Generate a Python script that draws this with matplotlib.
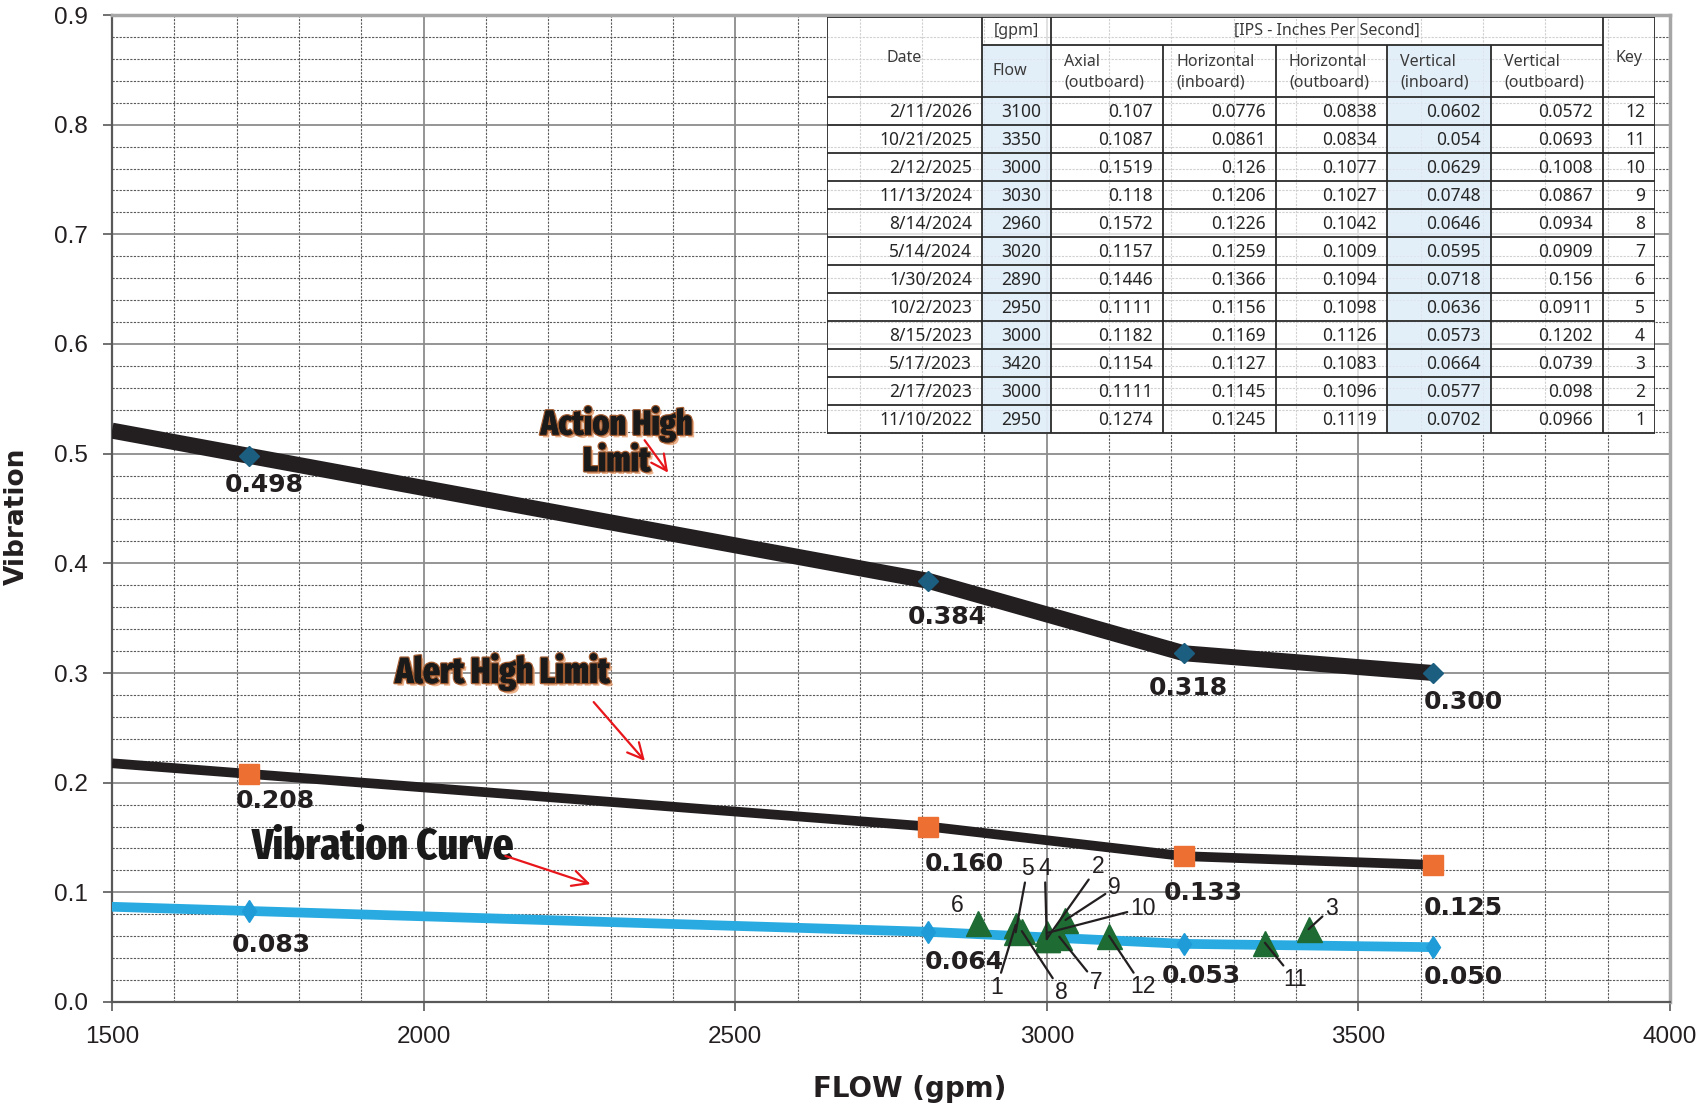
import numpy as np
import matplotlib
matplotlib.use('Agg')
import matplotlib.pyplot as plt
import matplotlib.patheffects as pe
from matplotlib import font_manager as fm
from matplotlib.patches import Rectangle
from matplotlib.ticker import MultipleLocator, FormatStrFormatter

plt.rcParams['font.family'] = ['Liberation Sans', 'DejaVu Sans']

# limit curves
curve_flow = [1720, 2810, 3220, 3620]
action_limit = [0.498, 0.384, 0.318, 0.300]
alert_limit = [0.208, 0.160, 0.133, 0.125]
vib_curve = [0.083, 0.064, 0.053, 0.050]

# measurement history (table)
dates = ['2/11/2026', '10/21/2025', '2/12/2025', '11/13/2024', '8/14/2024', '5/14/2024',
         '1/30/2024', '10/2/2023', '8/15/2023', '5/17/2023', '2/17/2023', '11/10/2022']
flow = [3100, 3350, 3000, 3030, 2960, 3020, 2890, 2950, 3000, 3420, 3000, 2950]
axial_out = [0.107, 0.1087, 0.1519, 0.118, 0.1572, 0.1157, 0.1446, 0.1111, 0.1182, 0.1154, 0.1111, 0.1274]
horiz_in = [0.0776, 0.0861, 0.126, 0.1206, 0.1226, 0.1259, 0.1366, 0.1156, 0.1169, 0.1127, 0.1145, 0.1245]
horiz_out = [0.0838, 0.0834, 0.1077, 0.1027, 0.1042, 0.1009, 0.1094, 0.1098, 0.1126, 0.1083, 0.1096, 0.1119]
vert_in = [0.0602, 0.054, 0.0629, 0.0748, 0.0646, 0.0595, 0.0718, 0.0636, 0.0573, 0.0664, 0.0577, 0.0702]
vert_out = [0.0572, 0.0693, 0.1008, 0.0867, 0.0934, 0.0909, 0.156, 0.0911, 0.1202, 0.0739, 0.098, 0.0966]
keys = [12, 11, 10, 9, 8, 7, 6, 5, 4, 3, 2, 1]

x_min, x_max = 1500, 4000


def condensed_bold():
    # narrowest, heaviest upright face available (stand-in for Impact)
    best = None
    for f in fm.fontManager.ttflist:
        fn = f.fname
        narrow = ('Condensed' in f.name or 'Narrow' in f.name or 'ondensed' in fn
                  or 'Narrow' in fn or str(f.stretch) != 'normal')
        if not narrow or 'xpanded' in fn or 'Italic' in fn or 'Oblique' in fn or f.style != 'normal':
            continue
        if 'ExtraCondensed' in fn or 'UltraCondensed' in fn:
            rank = 0
        elif 'SemiCondensed' in fn:
            rank = 2
        else:
            rank = 1
        w = f.weight if isinstance(f.weight, int) else (700 if 'bold' in str(f.weight) else 400)
        score = (rank, abs(w - 800))
        if best is None or score < best[0]:
            best = (score, fn)
    if best:
        return fm.FontProperties(fname=best[1])
    return fm.FontProperties(family='Liberation Sans', weight='bold')


W, H = 1704, 1104
fig = plt.figure(figsize=(W / 100, H / 100), dpi=100)
ax = fig.add_axes([112 / W, 1 - 1002 / H, 1558 / W, 987 / H])


def extend_left(xs, ys):
    # lines in the original run back to the left edge along the first segment
    slope = (ys[1] - ys[0]) / (xs[1] - xs[0])
    return [x_min] + list(xs), [ys[0] + slope * (x_min - xs[0])] + list(ys)


lx, ly = extend_left(curve_flow, action_limit)
ax.plot(lx, ly, color='#231f20', lw=11.5, solid_capstyle='butt', zorder=3)
ax.plot(curve_flow, action_limit, 'D', color='#1b5e80', ms=10.5, zorder=4)

lx, ly = extend_left(curve_flow, alert_limit)
ax.plot(lx, ly, color='#231f20', lw=7, solid_capstyle='butt', zorder=3)
ax.plot(curve_flow, alert_limit, 's', color='#ed7032', ms=15, zorder=4)

lx, ly = extend_left(curve_flow, vib_curve)
ax.plot(lx, ly, color='#29abe2', lw=7, solid_capstyle='butt', zorder=3)
ax.plot(curve_flow, vib_curve, 'd', color='#1f9bd7', ms=11.5, zorder=4)

ax.plot(flow, vert_in, '^', color='#1e6b34', ms=18, ls='none', zorder=5)

# value labels under the curve points
action_off = [(15, -29), (19, -36), (4, -35), (30, -29)]
alert_off = [(26, -27), (36, -37), (19, -37), (30, -43)]
vib_off = [(22, -34), (36, -30), (17, -32), (30, -30)]
for ys, offs in [(action_limit, action_off), (alert_limit, alert_off), (vib_curve, vib_off)]:
    for x, y, off in zip(curve_flow, ys, offs):
        ax.annotate(f'{y:.3f}', (x, y), xytext=off, textcoords='offset pixels',
                    ha='center', va='center', fontsize=18, fontweight='bold',
                    family='DejaVu Sans', color='#231f20', zorder=6)

# key labels for the measurements
key_off = {6: (-21, 18), 5: (12, 64), 4: (-2, 71), 2: (51, 72), 9: (49, 32), 10: (96, 25),
           7: (37, -46), 8: (40, -61), 1: (-19, -62), 12: (34, -51), 11: (30, -37), 3: (23, 21)}
for f, v, k in zip(flow, vert_in, keys):
    arrow = None if k == 6 else dict(arrowstyle='-', color='#231f20', lw=1.6, shrinkA=0, shrinkB=0)
    ax.annotate(str(k), (f, v), xytext=key_off[k], textcoords='offset pixels',
                ha='center', va='center', fontsize=16.5, color='#231f20',
                arrowprops=arrow, zorder=6)

# callouts
cond = condensed_bold()
glow = [pe.withSimplePatchShadow(offset=(2, -2), shadow_rgbFace='#e8a070', alpha=0.8),
        pe.withStroke(linewidth=2, foreground='#a05a30'), pe.Normal()]
t_action = ax.text(2310, 0.510, 'Action High\nLimit', ha='center', va='center', fontproperties=cond,
                   fontsize=20, color='#1a1a1a', linespacing=1.1, path_effects=glow, zorder=6)
t_alert = ax.text(2127, 0.301, 'Alert High Limit', ha='center', va='center', fontproperties=cond,
                  fontsize=20, color='#1a1a1a', path_effects=glow, zorder=6)
t_vib = ax.text(1935, 0.141, 'Vibration Curve', ha='center', va='center', fontproperties=cond,
                fontsize=20, color='#1a1a1a', zorder=6)

# fit callout sizes to the widths seen in the original (capped by letter height)
renderer = fig.canvas.get_renderer()
for t, target_w, max_pt in [(t_action, 177, 25), (t_alert, 239, 26), (t_vib, 262, 50)]:
    w = t.get_window_extent(renderer).width
    t.set_fontsize(min(20 * target_w / w, max_pt))

red = dict(arrowstyle='->', color='#e8161b', lw=1.6, mutation_scale=28)
ax.annotate('', xy=(2395, 0.4806), xytext=(2352, 0.5143), arrowprops=red, zorder=6)
ax.annotate('', xy=(2358, 0.2179), xytext=(2270, 0.2754), arrowprops=red, zorder=6)
ax.annotate('', xy=(2272, 0.1067), xytext=(2127, 0.134), arrowprops=red, zorder=6)

# axes styling
ax.set_xlim(x_min, x_max)
ax.set_ylim(0, 0.9)
ax.xaxis.set_major_locator(MultipleLocator(500))
ax.xaxis.set_minor_locator(MultipleLocator(100))
ax.yaxis.set_major_locator(MultipleLocator(0.1))
ax.yaxis.set_minor_locator(MultipleLocator(0.02))
ax.yaxis.set_major_formatter(FormatStrFormatter('%.1f'))
ax.set_axisbelow(True)
ax.grid(which='major', color='#8c8c8c', lw=1.3, ls='-')
ax.grid(which='minor', color='#5a5a5a', lw=0.8, ls=(0, (2, 1.2)))
ax.tick_params(which='major', length=6.5, width=1.2, color='#595959', pad=11,
               labelsize=17.5, labelcolor='#231f20')
ax.tick_params(which='minor', length=0)
for s in ['left', 'bottom']:
    ax.spines[s].set_color('#595959')
    ax.spines[s].set_linewidth(1.6)
for s in ['top', 'right']:
    ax.spines[s].set_color('#a6a6a6')
    ax.spines[s].set_linewidth(2.5)

ax.set_xlabel('FLOW (gpm)', fontsize=20, fontweight='bold', family='DejaVu Sans', color='#231f20')
ax.xaxis.set_label_coords(0.512, -0.074)
ax.set_ylabel('Vibration', fontsize=19, fontweight='bold', family='DejaVu Sans', color='#231f20')
ax.yaxis.set_label_coords(-0.053, 0.492)

# data table in the upper right
tab = fig.add_axes([827 / W, 1 - 434 / H, 828 / W, 417 / H], zorder=2)
tab.set_xlim(0, 828)
tab.set_ylim(417, 0)
tab.set_xticks([])
tab.set_yticks([])
for s in tab.spines.values():
    s.set_visible(False)
tab.patch.set_facecolor((1, 1, 1, 0.72))

col_x = [0, 155, 224, 336, 449, 560, 664, 776, 828]
head_h, sub_h, row_h = 28, 80, 28
n = len(dates)
bottom = sub_h + row_h * n
blue = (0.867, 0.922, 0.969, 0.8)
tab.add_patch(Rectangle((col_x[1], head_h), col_x[2] - col_x[1], bottom - head_h, fc=blue, ec='none'))
tab.add_patch(Rectangle((col_x[5], head_h), col_x[6] - col_x[5], bottom - head_h, fc=blue, ec='none'))

lc, lw = '#2b2b2b', 1.3
tab.hlines([0, sub_h] + [sub_h + row_h * (i + 1) for i in range(n)], 0, 828, color=lc, lw=lw)
tab.hlines(head_h, col_x[1], col_x[7], color=lc, lw=lw)
tab.vlines([0, col_x[1], col_x[2], col_x[7], 828], 0, bottom, color=lc, lw=lw)
tab.vlines(col_x[3:7], head_h, bottom, color=lc, lw=lw)

hfont = dict(fontsize=11.5, family=['Noto Sans', 'DejaVu Sans'], color='#3a3a3a')
tab.text((col_x[0] + col_x[1]) / 2, 41, 'Date', ha='center', va='center', **hfont)
tab.text((col_x[1] + col_x[2]) / 2, 14, '[gpm]', ha='center', va='center', **hfont)
tab.text(col_x[1] + 10, 54, 'Flow', ha='left', va='center', **hfont)
tab.text((col_x[2] + col_x[7]) / 2, 14, '[IPS - Inches Per Second]', ha='center', va='center', **hfont)
tab.text((col_x[7] + col_x[8]) / 2, 41, 'Key', ha='center', va='center', **hfont)
sub_heads = ['Axial\n(outboard)', 'Horizontal\n(inboard)', 'Horizontal\n(outboard)',
             'Vertical\n(inboard)', 'Vertical\n(outboard)']
for j, t in enumerate(sub_heads):
    tab.text(col_x[j + 2] + 13, 55, t, ha='left', va='center', linespacing=1.35, **hfont)

bfont = dict(fontsize=12.5, family=['Noto Sans', 'DejaVu Sans'], color='#262626')
for i in range(n):
    y = sub_h + row_h * i + row_h / 2 + 1
    cells = [dates[i], str(flow[i]), f'{axial_out[i]:g}', f'{horiz_in[i]:g}',
             f'{horiz_out[i]:g}', f'{vert_in[i]:g}', f'{vert_out[i]:g}', str(keys[i])]
    for j, t in enumerate(cells):
        tab.text(col_x[j + 1] - 10, y, t, ha='right', va='center', **bfont)

fig.savefig('out.png', dpi=100)
